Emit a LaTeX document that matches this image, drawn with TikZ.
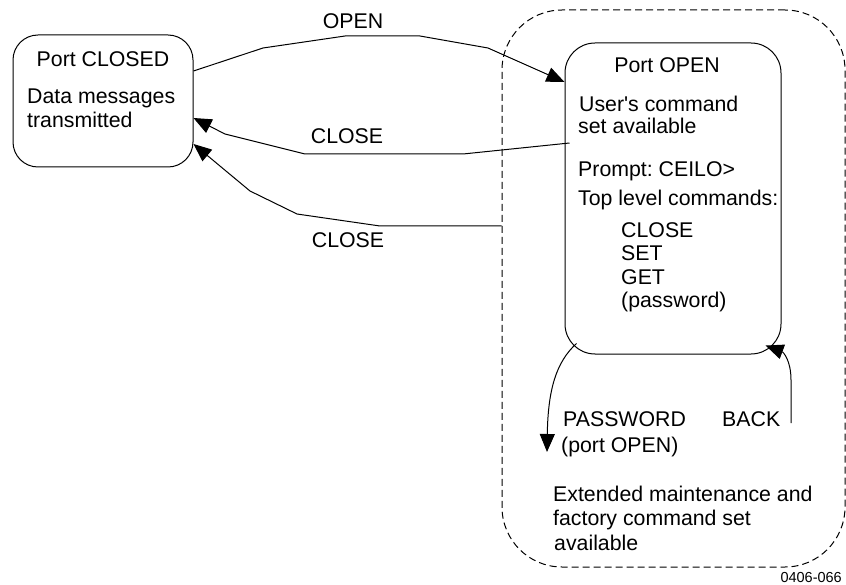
\documentclass[tikz,border=0pt]{standalone}
\usepackage{fontspec}
\setmainfont{Liberation Sans}
\usetikzlibrary{arrows.meta}
\frenchspacing
\begin{document}
\begin{tikzpicture}[x=1pt,y=-1pt,
  txt/.style={anchor=base west,inner sep=0pt,font=\fontsize{21.3}{24}\selectfont},
  box/.style={draw,line width=1pt,inner sep=0pt},
  conn/.style={line width=1pt,-{Triangle[length=18pt,width=15pt]}},
  plain/.style={line width=1pt}]
\useasboundingbox (0,0) rectangle (846,585);
% dashed region
\node[box,dashed,dash pattern=on 7pt off 4pt,rounded corners=60pt,minimum width=343pt,minimum height=557pt] (ext) at (673.5,288.5) {};
% boxes
\node[box,rounded corners=25pt,minimum width=180pt,minimum height=132pt] (closed) at (103,101) {};
\node[box,rounded corners=30pt,minimum width=216pt,minimum height=311pt] (open) at (673,198.5) {};
% texts in closed box
\node[txt,anchor=base] (t1) at (103,67) {Port CLOSED};
\node[txt] (t2) at (27,104) {Data messages};
\node[txt] (t3) at (27,128) {transmitted};
% texts in open box
\node[txt,anchor=base] (o1) at (667,73) {Port OPEN};
\node[txt] (o2) at (579,112) {User\textquotesingle s command};
\node[txt] (o3) at (578,134) {set available};
\node[txt] (o4) at (578,177) {Prompt: CEILO>};
\node[txt] (o5) at (578,206) {Top level commands:};
\node[txt] (o6) at (621,238) {CLOSE};
\node[txt] (o7) at (621,261) {SET};
\node[txt] (o8) at (621,285) {GET};
\node[txt] (o9) at (621,308) {(password)};
% connector labels
\node[txt,anchor=base] (lopen) at (353,29) {OPEN};
\node[txt,anchor=base] (lclose1) at (347,144) {CLOSE};
\node[txt,anchor=base] (lclose2) at (348,248) {CLOSE};
\node[txt] (lpw1) at (563,426) {PASSWORD};
\node[txt] (lpw2) at (561,452) {(port OPEN)};
\node[txt] (lback) at (722,426) {BACK};
\node[txt] (e1) at (553,501) {Extended maintenance and};
\node[txt] (e2) at (553,525) {factory command set};
\node[txt] (e3) at (554,550) {available};
\node[anchor=base east,inner sep=0pt,font=\fontsize{14.5}{16}\selectfont] (code) at (842,582) {0406-066};
% connectors
\draw[conn] ([yshift=30pt]closed.east) -- (263,48) -- (345,36) -- (420,36) -- (488,48) -- ([yshift=116.5pt]open.west);
\draw[conn] ([xshift=5pt,yshift=55.5pt]open.west) -- (463,154) -- (305,154) -- (225,134) -- ([yshift=-17pt]closed.east);
\draw[conn] ([yshift=62.5pt]ext.west) -- (380,226) -- (297,214) -- (250,191) -- ([yshift=-43pt]closed.east);
\coordinate (pwend) at (547,452);
\coordinate (backstart) at (791,423);
\draw[conn] ([xshift=12pt,yshift=11pt]open.south west) .. controls (556,362) and (548,390) .. (pwend);
\draw[conn] (backstart) -- (791,380) .. controls (791,360) and (783,352) .. ([xshift=-16pt,yshift=9pt]open.south east);
\end{tikzpicture}
\end{document}
